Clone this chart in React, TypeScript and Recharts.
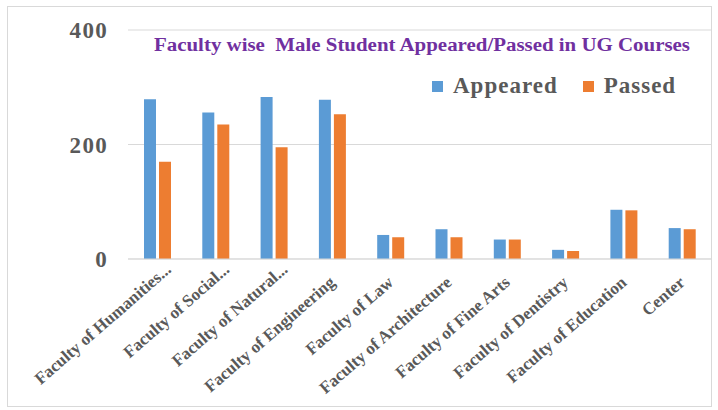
import React from 'react';
import { BarChart, Bar, XAxis, YAxis, CartesianGrid, Legend } from 'recharts';

// categories as printed under the axis (Excel truncated the long ones)
const faculties = [
  'Faculty of Humanities...',
  'Faculty of Social...',
  'Faculty of Natural...',
  'Faculty of Engineering',
  'Faculty of Law',
  'Faculty of Architecture',
  'Faculty of Fine Arts',
  'Faculty of Dentistry',
  'Faculty of Education',
  'Center',
];

const appeared = [279, 256, 283, 278, 42, 52, 34, 16, 86, 54];
const passed = [170, 235, 195, 253, 38, 38, 34, 14, 85, 52];

const yTicks = [0, 200, 400];

const data = faculties.map((name, i) => ({
  name,
  appeared: appeared[i],
  passed: passed[i],
}));

const COLORS = {
  appeared: '#5B9BD5',
  passed: '#ED7D31',
  grid: '#D9D9D9',
  text: '#595959',
  title: '#7030A0',
};

const FONT = '"Liberation Serif", "Times New Roman", serif';

// Excel lines up the truncated labels without their "...", so those sit further out
const FacultyTick = ({ x, y, payload }: any) => {
  const cut = String(payload.value).endsWith('...');
  const dx = cut ? 15 : 4;
  const dy = cut ? 4 : 17;
  return (
    <g transform={`translate(${x + dx},${y + dy})`}>
      <text
        textAnchor="end"
        transform="rotate(-41)"
        fill={COLORS.text}
        fontSize={17}
        fontWeight="bold"
        fontFamily={FONT}
      >
        {payload.value}
      </text>
    </g>
  );
};

const LegendBox = ({ payload }: any) => (
  <div style={{ display: 'flex', alignItems: 'center', fontFamily: FONT }}>
    {payload.map((entry: any, index: number) => (
      <div
        key={index}
        style={{ display: 'flex', alignItems: 'center', marginRight: index === 0 ? 25 : 0 }}
      >
        <div style={{ width: 11, height: 11, backgroundColor: entry.color, marginRight: 10 }} />
        <span
          style={{
            fontSize: 23,
            fontWeight: 'bold',
            color: COLORS.text,
            lineHeight: '26px',
            letterSpacing: 1,
          }}
        >
          {entry.value}
        </span>
      </div>
    ))}
  </div>
);

export default function App() {
  return (
    <div style={{ position: 'absolute', left: 0, top: 0, width: 718, height: 410, background: '#fff' }}>
      <div
        style={{
          position: 'absolute',
          left: 7,
          top: 6,
          width: 703,
          height: 399,
          border: '1px solid #D9D9D9',
        }}
      />
      <BarChart
        width={718}
        height={410}
        data={data}
        margin={{ top: 30, right: 7, left: 28, bottom: 0 }}
        barSize={12}
        barGap={3}
      >
        <CartesianGrid vertical={false} stroke={COLORS.grid} />
        <XAxis
          dataKey="name"
          interval={0}
          height={151}
          tickLine={false}
          axisLine={{ stroke: COLORS.grid }}
          tick={<FacultyTick />}
        />
        <YAxis
          width={100}
          domain={[0, 400]}
          ticks={yTicks}
          axisLine={false}
          tickLine={false}
          tickMargin={14}
          tick={{ fill: COLORS.text, fontSize: 23, fontWeight: 'bold', fontFamily: FONT, letterSpacing: 1.3 }}
        />
        <Legend
          verticalAlign="middle"
          align="center"
          layout="horizontal"
          content={<LegendBox />}
          wrapperStyle={{ top: 73, left: 432, width: 'auto' }}
        />
        <Bar dataKey="appeared" name="Appeared" fill={COLORS.appeared} isAnimationActive={false} />
        <Bar dataKey="passed" name="Passed" fill={COLORS.passed} isAnimationActive={false} />
      </BarChart>
      <svg
        width={718}
        height={70}
        style={{ position: 'absolute', left: 0, top: 0, pointerEvents: 'none' }}
      >
        <text
          x={154}
          y={51}
          textLength={536}
          lengthAdjust="spacingAndGlyphs"
          fontFamily={FONT}
          fontSize={18}
          fontWeight="bold"
          fill={COLORS.title}
          style={{ whiteSpace: 'pre' }}
        >
          {'Faculty wise  Male Student Appeared/Passed in UG Courses'}
        </text>
      </svg>
    </div>
  );
}
